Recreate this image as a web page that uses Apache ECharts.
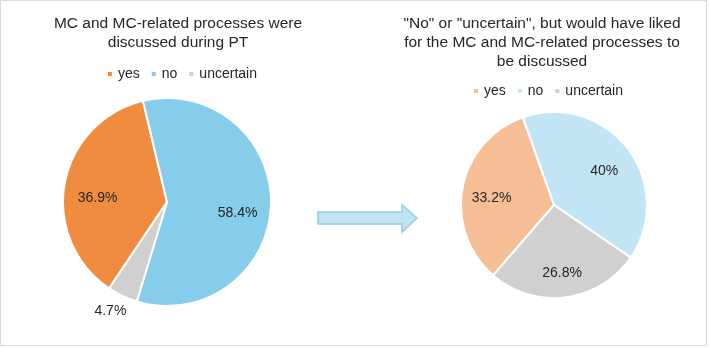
<!DOCTYPE html>
<html>
<head>
<meta charset="utf-8">
<script src="https://cdn.jsdelivr.net/npm/echarts@6/dist/echarts.min.js"></script>
<style>
  html, body { margin: 0; padding: 0; background: #fff; }
  #chart { width: 709px; height: 348px; }
</style>
</head>
<body>
<div id="chart"></div>
<script>
// categories (legend order)
const categories = ['yes', 'no', 'uncertain'];
// left pie: MC discussed during PT (%)
const discussedPct = [36.9, 58.4, 4.7];
// right pie: would have liked it discussed (%)
const wouldLikePct = [33.2, 40, 26.8];

const leftTitle = 'MC and MC-related processes were\ndiscussed during PT';
const rightTitle = '"No" or "uncertain", but would have liked\nfor the MC and MC-related processes to\nbe discussed';

const leftColors = ['#F08C40', '#86CCEB', '#D0D0D0'];
const rightColors = ['#F6BE95', '#C2E5F5', '#D0D0D0'];

const font = 'Liberation Sans, Arial, sans-serif';
const textColor = '#262626';

// small slices get their label outside, the rest a label placed by a ghost pie
function visiblePie(values, colors, center, radius, startAngle) {
  return {
    type: 'pie',
    center,
    radius,
    startAngle,
    avoidLabelOverlap: false,
    emphasis: { disabled: true },
    label: {
      show: true,
      position: 'outside',
      formatter: (p) => (p.value < 10 ? p.value + '%' : ''),
      fontFamily: font,
      fontSize: 14,
      color: textColor,
    },
    labelLine: { show: false, length: 12, length2: 0 },
    labelLayout: { dx: 14, dy: 4 },
    data: categories.map((name, i) => ({
      name,
      value: values[i],
      itemStyle: { color: colors[i], borderColor: '#fff', borderWidth: 2 },
    })),
  };
}

function labelPie(values, center, radius, startAngle, dy) {
  return {
    type: 'pie',
    center,
    radius: radius * 1.3,
    startAngle,
    silent: true,
    avoidLabelOverlap: false,
    itemStyle: { color: 'transparent' },
    label: {
      show: true,
      position: 'inside',
      formatter: (p) => (p.value < 10 ? '' : p.value + '%'),
      fontFamily: font,
      fontSize: 14,
      color: textColor,
    },
    labelLayout: { dy },
    labelLine: { show: false },
    data: values.map((v, i) => ({ name: 'lbl-' + categories[i], value: v })),
  };
}

function legendFor(colors, left, top) {
  return {
    left,
    top,
    padding: 0,
    icon: 'rect',
    itemWidth: 6,
    itemHeight: 6,
    itemGap: 10,
    selectedMode: false,
    textStyle: { fontFamily: font, fontSize: 14, color: textColor },
    data: categories.map((name, i) => ({ name, itemStyle: { color: colors[i] } })),
  };
}

const titleStyle = { fontFamily: font, fontSize: 15.5, fontWeight: 'normal', color: textColor, lineHeight: 19 };

const option = {
  backgroundColor: '#fff',
  animation: false,
  title: [
    { text: leftTitle, left: 178, top: 14, padding: 0, textAlign: 'center', textStyle: titleStyle },
    { text: rightTitle, left: 542, top: 14, padding: 0, textAlign: 'center', textStyle: titleStyle },
  ],
  legend: [legendFor(leftColors, 106, 67), legendFor(rightColors, 472, 84)],
  series: [
    visiblePie(discussedPct, leftColors, [167, 202], 104, 236.2),
    visiblePie(wouldLikePct, rightColors, [554, 205], 93, 229.1),
    labelPie(discussedPct, [167, 202], 104, 236.2, 9),
    labelPie(wouldLikePct, [554, 205], 93, 229.1, 5),
  ],
  graphic: [
    {
      type: 'rect',
      shape: { x: 0.5, y: 0.5, width: 706, height: 345 },
      style: { fill: 'none', stroke: '#D9D9D9', lineWidth: 1 },
      silent: true,
    },
    {
      type: 'polygon',
      shape: {
        points: [[318, 212], [402, 212], [402, 205], [417, 218], [402, 232], [402, 224], [318, 224]],
      },
      style: { fill: '#C0E4F3', stroke: '#93CCE0', lineWidth: 1.5 },
      silent: true,
    },
  ],
};

const dom = document.getElementById('chart');
const myChart = echarts.init(dom);
myChart.setOption(option);
window.addEventListener('resize', () => {
  myChart.resize();
});
</script>
</body>
</html>
